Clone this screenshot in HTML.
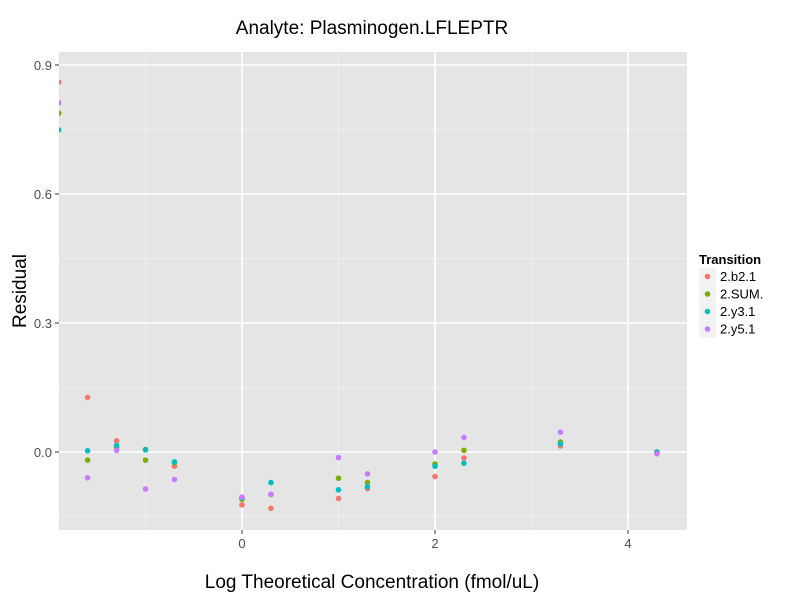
<!DOCTYPE html>
<html><head><meta charset="utf-8"><style>
body{margin:0;background:#fff;font-family:"Liberation Sans",sans-serif;}
</style></head><body>
<svg id="chart" width="800" height="600" xmlns="http://www.w3.org/2000/svg">
<text x="372" y="34" text-anchor="middle" font-size="19" fill="#000">Analyte: Plasminogen.LFLEPTR</text>
<rect x="59" y="52" width="628" height="478" fill="#e5e5e5"/>
<g id="grid"></g>
<g id="points"></g>
<g id="axes"></g>
<text x="372" y="588" text-anchor="middle" font-size="19">Log Theoretical Concentration (fmol/uL)</text>
<text transform="translate(26,291) rotate(-90)" text-anchor="middle" font-size="19">Residual</text>
<g>
<text x="699" y="264" font-size="13" font-weight="bold">Transition</text>
<g id="legend"></g>
</g>
</svg>
<script>
const xValues=[-1.9,-1.6,-1.3,-1.0,-0.7,0,0.3,1.0,1.3,2.0,2.3,3.3,4.3];
const seriesNames=["2.b2.1","2.SUM.","2.y3.1","2.y5.1"];
const colors=["#F8766D","#7CAE00","#00BFC4","#C77CFF"];
const b21=[0.860,0.127,0.026,0.006,-0.033,-0.123,-0.131,-0.108,-0.085,-0.057,-0.014,0.014,-0.001];
const sum=[0.788,-0.019,0.010,-0.019,-0.025,-0.110,-0.099,-0.061,-0.071,-0.028,0.004,0.023,0.000];
const y31=[0.749,0.003,0.015,0.005,-0.023,-0.107,-0.071,-0.088,-0.081,-0.033,-0.026,0.019,0.000];
const y51=[0.812,-0.060,0.004,-0.086,-0.064,-0.105,-0.098,-0.013,-0.051,0.000,0.034,0.046,-0.004];
const xTicks=[0,2,4];
const yTicks=[0.0,0.3,0.6,0.9];
const xMinor=[-1,1,3];
const yMinor=[-0.15,0.15,0.45,0.75];
const X=v=>242+96.5*v, Y=v=>452-430*v;
const NS="http://www.w3.org/2000/svg";
function mk(t,a,p){const e=document.createElementNS(NS,t);for(const k in a)e.setAttribute(k,a[k]);p.appendChild(e);return e;}
const grid=document.getElementById('grid'),axes=document.getElementById('axes'),pts=document.getElementById('points'),leg=document.getElementById('legend');
yMinor.forEach(v=>{const l=mk('line',{x1:59,x2:687,y1:Y(v),y2:Y(v),stroke:'#f2f2f2','stroke-width':0.8},grid);

});
xMinor.forEach(v=>{const l=mk('line',{x1:X(v),x2:X(v),y1:52,y2:530,stroke:'#f2f2f2','stroke-width':0.8},grid);

});
yTicks.forEach(v=>{const l=mk('line',{x1:59,x2:687,y1:Y(v),y2:Y(v),stroke:'#fff','stroke-width':1.6},grid);


mk('line',{x1:55,x2:59,y1:Y(v),y2:Y(v),stroke:'#333','stroke-width':1},axes);
const t=mk('text',{x:52,y:Y(v)+5,'text-anchor':'end','font-size':13,fill:'#4d4d4d'},axes);t.textContent=v.toFixed(1);

});
xTicks.forEach(v=>{const l=mk('line',{x1:X(v),x2:X(v),y1:52,y2:530,stroke:'#fff','stroke-width':1.6},grid);


mk('line',{x1:X(v),x2:X(v),y1:530,y2:534,stroke:'#333','stroke-width':1},axes);
const t=mk('text',{x:X(v),y:548,'text-anchor':'middle','font-size':13,fill:'#4d4d4d'},axes);t.textContent=v;

});
const clip=mk('clipPath',{id:'pc'},document.getElementById('chart'));mk('rect',{x:59,y:52,width:628,height:478},clip);
pts.setAttribute('clip-path','url(#pc)');
[b21,sum,y31,y51].forEach((s,i)=>{s.forEach((v,j)=>{const c=mk('circle',{cx:X(xValues[j]),cy:Y(v),r:2.8,fill:colors[i]},pts);

});
const g=mk('g',{},leg);


const y0=268+i*17.5;
mk('rect',{x:699,y:y0,width:17,height:17,fill:'#f2f2f2'},g);
mk('circle',{cx:707.5,cy:y0+8.5,r:2.8,fill:colors[i]},g);
const t=mk('text',{x:720,y:y0+13,'font-size':13},g);t.textContent=seriesNames[i];});
</script>
</body></html>
